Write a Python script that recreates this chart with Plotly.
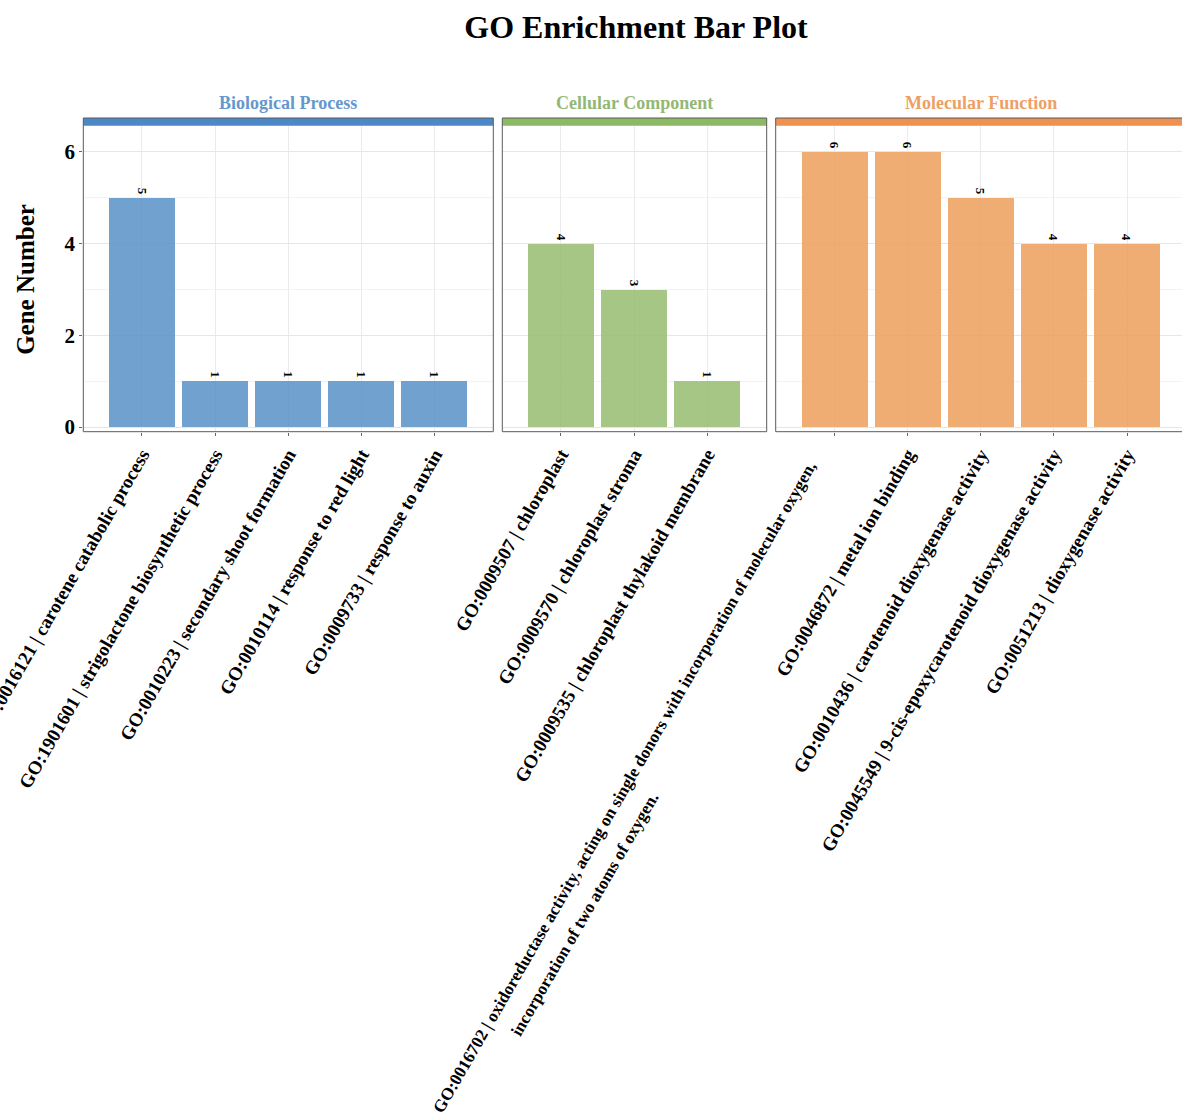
import plotly.graph_objects as go

# GO terms per ontology and their gene counts
bp_terms = [
    "GO:0016121 | carotene catabolic process",
    "GO:1901601 | strigolactone biosynthetic process",
    "GO:0010223 | secondary shoot formation",
    "GO:0010114 | response to red light",
    "GO:0009733 | response to auxin",
]
bp_counts = [5, 1, 1, 1, 1]

cc_terms = [
    "GO:0009507 | chloroplast",
    "GO:0009570 | chloroplast stroma",
    "GO:0009535 | chloroplast thylakoid membrane",
]
cc_counts = [4, 3, 1]

mf_terms = [
    "GO:0016702 | oxidoreductase activity, acting on single donors with incorporation of molecular oxygen,\nincorporation of two atoms of oxygen.",
    "GO:0046872 | metal ion binding",
    "GO:0010436 | carotenoid dioxygenase activity",
    "GO:0045549 | 9-cis-epoxycarotenoid dioxygenase activity",
    "GO:0051213 | dioxygenase activity",
]
mf_counts = [6, 6, 5, 4, 4]

ontologies = ["Biological Process", "Cellular Component", "Molecular Function"]

W, H = 1182, 1116
L, T, B = 83, 118, 684
PW, PH = W - L, H - T - B
BOTTOM = T + PH  # pixel row of the panel bottom


def fx(px):
    return (px - L) / PW


def fy(py):
    return (BOTTOM - py) / PH


FONT = "Liberation Serif"
bar_fill = ["rgba(87,144,199,0.85)", "rgba(150,188,112,0.85)", "rgba(237,159,90,0.85)"]
strip_fill = ["#4C87C8", "#8BB964", "#EE9151"]
strip_text = ["#6697CC", "#93B874", "#EDA066"]

# panel geometry in pixels (left, right) and category ranges
unit = 73.21
panels_px = [(83.3, 493.3), (502.3, 766.7), (775.7, 1185.7)]
strip_top, panel_top = 118.0, 125.7

# wrapped labels are drawn line by line: (x shift from tick, pixel row of line centre)
wrapped_offsets = [(-210.0, 787.0), (-249.6, 914.4)]

groups = [(bp_terms, bp_counts), (cc_terms, cc_counts), (mf_terms, mf_counts)]

fig = go.Figure()
layout_axes = {}
shapes = []
annotations = []

for i, ((terms, counts), (x0p, x1p)) in enumerate(zip(groups, panels_px)):
    n = len(terms)
    xs = list(range(n))
    suffix = "" if i == 0 else str(i + 1)
    xname, yname = "x" + suffix, "y" + suffix
    fig.add_trace(go.Bar(
        x=xs, y=counts, width=0.9,
        marker=dict(color=bar_fill[i], line=dict(width=0)),
        text=[str(c) for c in counts], textposition="outside", textangle=90,
        constraintext="none", cliponaxis=False,
        textfont=dict(family=FONT, size=13, color="black", weight="bold"),
        xaxis=xname, yaxis=yname, showlegend=False, hoverinfo="skip",
    ))
    right_px = min(x1p, W)
    xr_max = -0.8 + (right_px - x0p) / unit

    ticktext = []
    for k, t in enumerate(terms):
        if "\n" in t:
            ticktext.append("")
            for line, (dx, row) in zip(t.split("\n"), wrapped_offsets):
                annotations.append(dict(
                    text=line, xref=xname, yref="paper", x=xs[k], xshift=dx, y=fy(row),
                    xanchor="center", yanchor="middle", textangle=-60, showarrow=False,
                    font=dict(family=FONT, size=17.2, color="black", weight="bold"),
                ))
        else:
            ticktext.append(t)

    layout_axes["xaxis" + suffix] = dict(
        domain=[fx(x0p), fx(right_px)], anchor=yname,
        range=[-0.8, xr_max], tickmode="array", tickvals=xs, ticktext=ticktext,
        tickangle=-60, tickfont=dict(family=FONT, size=19, color="black", weight="bold"),
        ticklabeloverflow="allow",
        showgrid=True, gridcolor="#EBEBEB", gridwidth=1,
        ticks="outside", ticklen=3, tickcolor="#666666",
        zeroline=False, showline=False, automargin=False, fixedrange=True,
    )
    ydict = dict(
        domain=[0, fy(panel_top)], anchor=xname,
        range=[-0.109, 6.567], tick0=0, dtick=2,
        showgrid=True, gridcolor="#E6E6E6", gridwidth=1,
        minor=dict(dtick=1, showgrid=True, gridcolor="#F3F3F3", gridwidth=1),
        zeroline=False, showline=False, automargin=False, fixedrange=True,
    )
    if i == 0:
        ydict.update(ticks="outside", ticklen=3, tickcolor="#666666",
                     tickfont=dict(family=FONT, size=21, color="black", weight="bold"))
    else:
        ydict.update(showticklabels=False, matches="y")
    layout_axes["yaxis" + suffix] = ydict

    # strip band on top of the panel
    shapes.append(dict(type="rect", xref="paper", yref="paper",
                       x0=fx(x0p), x1=fx(right_px), y0=fy(panel_top), y1=fy(strip_top),
                       fillcolor=strip_fill[i], line=dict(width=0), layer="above"))
    # panel border (right edge of the last panel falls outside the page)
    xa, xb = fx(x0p), fx(x1p)
    ya, yb = fy(BOTTOM - 0.3), fy(strip_top)
    if x1p <= W:
        path = f"M{xa},{ya} L{xa},{yb} L{xb},{yb} L{xb},{ya} Z"
    else:
        xb = 1.0
        path = f"M{xb},{ya} L{xa},{ya} L{xa},{yb} L{xb},{yb}"
    shapes.append(dict(type="path", xref="paper", yref="paper", path=path,
                       line=dict(color="#5A5A5A", width=1), layer="above"))
    # strip label
    annotations.append(dict(
        text=ontologies[i], xref="paper", yref="paper",
        x=fx((x0p + x1p) / 2), y=fy(103), xanchor="center", yanchor="middle",
        showarrow=False, font=dict(family=FONT, size=18, color=strip_text[i], weight="bold"),
    ))

annotations.append(dict(
    text="Gene Number", xref="paper", yref="paper", x=fx(26), y=fy((panel_top + BOTTOM) / 2),
    xanchor="center", yanchor="middle", textangle=-90, showarrow=False,
    font=dict(family=FONT, size=25, color="black", weight="bold"),
))

fig.update_layout(
    width=W, height=H,
    margin=dict(l=L, r=0, t=T, b=B, pad=0),
    paper_bgcolor="white", plot_bgcolor="white",
    title=dict(text="GO Enrichment Bar Plot", x=636 / W, xref="container", xanchor="center",
               y=1 - 27 / H, yref="container", yanchor="middle",
               font=dict(family=FONT, size=32, color="black", weight="bold")),
    shapes=shapes, annotations=annotations, bargap=0,
    **layout_axes,
)

fig.write_html("out.html")
